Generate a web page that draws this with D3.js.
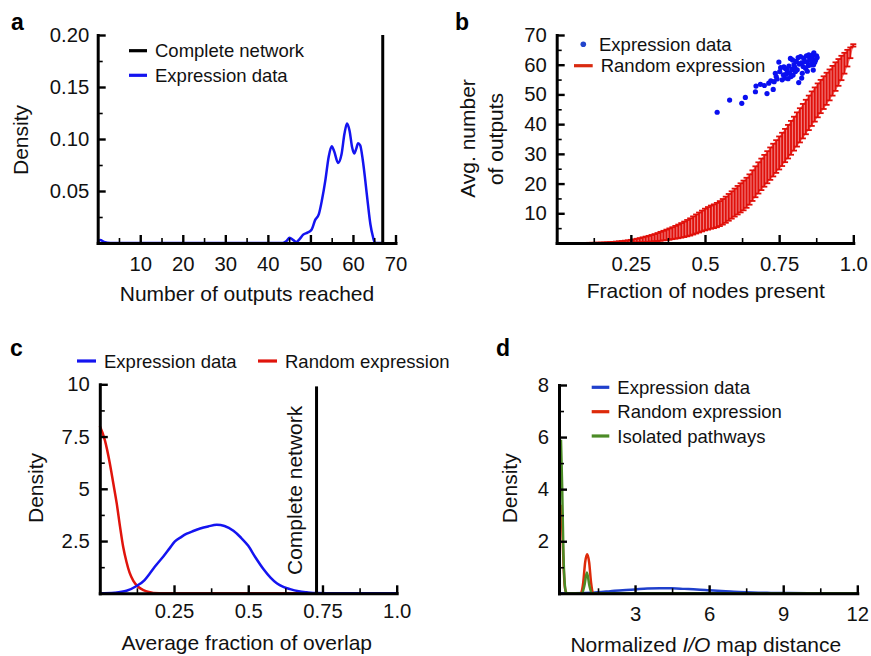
<!DOCTYPE html>
<html>
<head>
<meta charset="utf-8">
<script src="https://cdn.jsdelivr.net/npm/d3@7"></script>
<style>
  body { margin: 0; background: #fff; }
  svg { font-family: "Liberation Sans", Arial, sans-serif; }
</style>
</head>
<body>
<div id="chart"></div>
<script>
// ---- panel a: density of number of outputs reached
const aX = [0, 0.6, 1.5, 3, 20, 43.5, 44.4, 45.1, 45.9, 46.7, 47.5, 48.3, 49.3, 50.3, 51.1, 52.0, 52.7, 53.5, 54.3, 55.0, 55.6, 56.5, 57.3, 58.0, 58.6, 59.2, 59.8, 60.3, 60.8, 61.2, 61.7, 62.3, 62.9, 63.5, 64.1, 64.7, 65.2, 65.8, 67];
const aDensity = [0.001, 0.003, 0.001, 0, 0, 0, 0.002, 0.005, 0.003, 0.001, 0.004, 0.008, 0.010, 0.013, 0.022, 0.028, 0.041, 0.06, 0.083, 0.093, 0.088, 0.077, 0.085, 0.105, 0.115, 0.108, 0.092, 0.086, 0.091, 0.096, 0.094, 0.08, 0.06, 0.038, 0.018, 0.006, 0, 0, 0];
const aComplete = 67;
const aXTicks = [10, 20, 30, 40, 50, 60, 70];
const aYTicks = [0.05, 0.1, 0.15, 0.2];
const aYLabels = ["0.05", "0.10", "0.15", "0.20"];

// ---- panel b: outputs vs fraction of nodes
const bExprFrac = [0.541, 0.583, 0.624, 0.636, 0.670, 0.672, 0.687, 0.700, 0.709, 0.715, 0.722, 0.730, 0.733, 0.737, 0.740, 0.743, 0.749, 0.752, 0.755, 0.760, 0.764, 0.766, 0.769, 0.771, 0.775, 0.777, 0.780, 0.783, 0.786, 0.788, 0.790, 0.793, 0.795, 0.797, 0.800, 0.803, 0.805, 0.808, 0.811, 0.814, 0.816, 0.818, 0.822, 0.825, 0.826, 0.828, 0.831, 0.833, 0.836, 0.839, 0.842, 0.845, 0.845, 0.848, 0.850, 0.853, 0.856, 0.858, 0.861, 0.864, 0.865, 0.866, 0.867, 0.870, 0.873, 0.876, 0.878];
const bExprOutputs = [44.0, 48.1, 47.0, 49.0, 50.9, 52.8, 53.4, 53.0, 50.3, 53.8, 54.6, 51.7, 54.3, 57.1, 56.0, 55.2, 60.9, 57.7, 59.0, 54.9, 56.6, 59.3, 55.5, 58.7, 57.0, 58.2, 55.3, 59.5, 57.2, 62.1, 56.0, 58.4, 61.6, 56.5, 60.0, 59.1, 57.7, 61.1, 58.3, 62.4, 54.0, 60.2, 62.7, 60.6, 55.5, 57.1, 59.4, 62.2, 61.1, 58.8, 63.0, 61.0, 57.8, 59.7, 63.3, 62.1, 59.9, 61.4, 62.2, 63.4, 58.2, 60.0, 64.0, 60.8, 61.6, 63.0, 62.4];
const bRandFrac = d3.range(1, 101).map(i => i / 100);
const bRandMean = [
  0, 0, 0, 0, 0, 0, 0, 0, 0.01, 0.02,
  0.03, 0.04, 0.05, 0.07, 0.08, 0.10, 0.13, 0.16, 0.2, 0.25,
  0.3, 0.36, 0.43, 0.5, 0.6, 0.7, 0.82, 0.95, 1.1, 1.25,
  1.4, 1.6, 1.8, 2.0, 2.25, 2.5, 2.75, 3.0, 3.3, 3.6,
  3.9, 4.25, 4.6, 5.0, 5.4, 5.9, 6.4, 6.9, 7.4, 7.9,
  8.3, 8.7, 9.0, 9.4, 9.9, 10.5, 11.2, 12.0, 12.8, 13.6,
  14.4, 15.2, 16.0, 16.9, 18.0, 19.3, 20.6, 21.9, 23.1, 24.3,
  25.5, 26.7, 27.9, 29.1, 30.3, 31.5, 32.8, 34.1, 35.4, 36.8,
  38.2, 39.6, 41.0, 42.4, 43.8, 45.2, 46.6, 48.0, 49.3, 50.6,
  51.9, 53.2, 54.6, 56.0, 57.4, 58.9, 60.5, 62.2, 64.0, 66.5
];
const bRandSd = [
  0, 0, 0, 0, 0, 0, 0, 0, 0.01, 0.02,
  0.03, 0.04, 0.05, 0.06, 0.08, 0.1, 0.12, 0.15, 0.18, 0.22,
  0.26, 0.3, 0.35, 0.4, 0.46, 0.53, 0.6, 0.7, 0.8, 0.9,
  1.0, 1.1, 1.2, 1.35, 1.5, 1.6, 1.75, 1.9, 2.0, 2.15,
  2.3, 2.45, 2.6, 2.75, 2.9, 3.05, 3.2, 3.35, 3.5, 3.65,
  3.8, 3.9, 4.0, 4.1, 4.2, 4.3, 4.4, 4.5, 4.6, 4.7,
  4.8, 4.9, 5.0, 5.05, 5.1, 5.15, 5.2, 5.25, 5.3, 5.35,
  5.4, 5.45, 5.5, 5.5, 5.55, 5.6, 5.6, 5.65, 5.7, 5.7,
  5.75, 5.75, 5.8, 5.8, 5.8, 5.8, 5.75, 5.7, 5.6, 5.5,
  5.4, 5.2, 5.0, 4.8, 4.5, 4.1, 3.5, 2.8, 1.8, 0.4
];
const bXTicks = [0.25, 0.5, 0.75, 1.0];
const bXLabels = ["0.25", "0.5", "0.75", "1.0"];
const bYTicks = [10, 20, 30, 40, 50, 60, 70];

// ---- panel c: average fraction of overlap
const cExprX = [0, 0.05, 0.09, 0.124, 0.15, 0.169, 0.19, 0.214, 0.235, 0.253, 0.275, 0.293, 0.315, 0.338, 0.365, 0.394, 0.42, 0.45, 0.475, 0.5, 0.525, 0.551, 0.575, 0.596, 0.62, 0.641, 0.67, 0.697, 0.73, 0.8, 1.0];
const cExprDensity = [0, 0.03, 0.12, 0.35, 0.62, 0.96, 1.35, 1.76, 2.15, 2.48, 2.7, 2.85, 2.98, 3.1, 3.2, 3.28, 3.22, 2.99, 2.67, 2.27, 1.7, 1.16, 0.75, 0.48, 0.3, 0.2, 0.1, 0.05, 0.01, 0, 0];
const cRandX = [0, 0.017, 0.034, 0.045, 0.057, 0.068, 0.079, 0.09, 0.1, 0.113, 0.13, 0.147, 0.165, 0.18, 0.22, 0.3, 1.0];
const cRandDensity = [8.0, 7.33, 6.2, 5.3, 4.3, 3.2, 2.2, 1.5, 1.0, 0.6, 0.3, 0.15, 0.06, 0.02, 0, 0, 0];
const cComplete = 0.73;
const cXTicks = [0.25, 0.5, 0.75, 1.0];
const cXLabels = ["0.25", "0.5", "0.75", "1.0"];
const cYTicks = [2.5, 5, 7.5, 10];

// ---- panel d: normalized I/O map distance
const dExprX = [0, 0.5, 1.0, 1.5, 2, 2.5, 3, 3.5, 4, 4.5, 5, 5.5, 6, 6.5, 7, 7.5, 8, 8.5, 9, 10, 11, 12];
const dExprDensity = [0, 0.005, 0.015, 0.04, 0.08, 0.12, 0.15, 0.18, 0.19, 0.19, 0.17, 0.15, 0.12, 0.09, 0.06, 0.04, 0.025, 0.015, 0.01, 0.004, 0.001, 0];
const dRandX = [0, 0.05, 0.1, 0.15, 0.2, 0.25, 0.8, 0.9, 0.98, 1.06, 1.14, 1.22, 1.3, 12];
const dRandDensity = [3.4, 2.6, 1.2, 0.3, 0.05, 0, 0, 0.4, 1.2, 1.5, 1.2, 0.4, 0, 0];
const dIsoX = [0, 0.05, 0.1, 0.15, 0.2, 0.25, 0.85, 0.95, 1.05, 1.15, 1.25, 1.4, 12];
const dIsoDensity = [5.9, 4.0, 1.5, 0.4, 0.05, 0, 0, 0.3, 0.8, 0.3, 0, 0, 0];
const dXTicks = [3, 6, 9, 12];
const dYTicks = [2, 4, 6, 8];

const BLUE = "#1414f0", RED = "#e0140c", GREEN = "#4b8b26", DBLUE = "#2040cc", DRED = "#dd2a0a";

const svg = d3.select("#chart").append("svg")
  .attr("width", 871).attr("height", 656);

// draw axes with major + minor inward ticks
function axes(g, x, y, o) {
  const h = y.range()[0];
  g.append("g").attr("transform", "translate(0," + h + ")")
    .call(d3.axisBottom(x).tickValues(o.xMinor).tickSize(-5).tickFormat("").tickSizeOuter(0))
    .call(s => s.select(".domain").remove())
    .call(s => s.selectAll("line").attr("stroke-width", 1.6));
  g.append("g").attr("transform", "translate(" + x.range()[0] + ",0)")
    .call(d3.axisLeft(y).tickValues(o.yMinor).tickSize(-5).tickFormat("").tickSizeOuter(0))
    .call(s => s.select(".domain").remove())
    .call(s => s.selectAll("line").attr("stroke-width", 1.6));
  const xa = g.append("g").attr("transform", "translate(0," + h + ")")
    .call(d3.axisBottom(x).tickValues(o.xTicks).tickSize(-8).tickPadding(o.xPad || 13.5).tickSizeOuter(0)
      .tickFormat((d, i) => o.xLabels ? o.xLabels[i] : d));
  const ya = g.append("g").attr("transform", "translate(" + x.range()[0] + ",0)")
    .call(d3.axisLeft(y).tickValues(o.yTicks).tickSize(-8).tickPadding(o.yPad || 10).tickSizeOuter(0)
      .tickFormat((d, i) => o.yLabels ? o.yLabels[i] : d));
  [xa, ya].forEach(a => {
    a.selectAll("text").attr("font-size", 20.3).attr("fill", "#111")
      .attr("font-family", "Liberation Sans, Arial, sans-serif");
    a.selectAll(".tick line").attr("stroke-width", 2.4);
    a.select(".domain").attr("stroke-width", 3).attr("stroke-linecap", "square");
  });
}

function panelLabel(txt, x, y) {
  svg.append("text").attr("x", x).attr("y", y).attr("font-size", 23)
    .attr("font-weight", "bold").text(txt);
}

function title(txt, x, y, rotate) {
  const t = svg.append("text").attr("font-size", 21).attr("text-anchor", "middle").attr("fill", "#111");
  if (rotate) t.attr("transform", "translate(" + x + "," + y + ") rotate(-90)");
  else t.attr("x", x).attr("y", y);
  t.text(txt);
  return t;
}

function legendLine(x, y, color, label, w) {
  svg.append("line").attr("x1", x).attr("x2", x + (w || 18)).attr("y1", y).attr("y2", y)
    .attr("stroke", color).attr("stroke-width", 3.2);
  svg.append("text").attr("x", x + (w || 18) + 8).attr("y", y + 6.5).attr("font-size", 18.5)
    .attr("fill", "#111").text(label);
}

const curve = (x, y) => d3.line().x(d => x(d[0])).y(d => y(d[1])).curve(d3.curveMonotoneX);

// ================= a =================
{
  const x = d3.scaleLinear().domain([0, 70]).range([97.7, 395.5]);
  const y = d3.scaleLinear().domain([0, 0.2]).range([243, 35]);
  const g = svg.append("g");
  g.append("path").datum(d3.zip(aX, aDensity)).attr("d", curve(x, y))
    .attr("fill", "none").attr("stroke", BLUE).attr("stroke-width", 2.5);
  g.append("line").attr("x1", x(aComplete)).attr("x2", x(aComplete))
    .attr("y1", y(0)).attr("y2", y(0.2)).attr("stroke", "#000").attr("stroke-width", 3);
  axes(g, x, y, {
    xTicks: aXTicks, xMinor: [5, 15, 25, 35, 45, 55, 65],
    yTicks: aYTicks, yLabels: aYLabels, yMinor: [0.025, 0.075, 0.125, 0.175], yPad: 8.4
  });
  panelLabel("a", 11, 30);
  title("Density", 28.3, 140, true);
  title("Number of outputs reached", 247, 301);
  legendLine(129, 50.7, "#000", "Complete network");
  legendLine(129, 75.3, BLUE, "Expression data");
}

// ================= b =================
{
  const x = d3.scaleLinear().domain([0, 1]).range([556.7, 853.3]);
  const y = d3.scaleLinear().domain([0, 70]).range([243, 35]).clamp(true);
  const g = svg.append("g");
  const rand = bRandFrac.map((f, i) => ({ f: f, lo: bRandMean[i] - bRandSd[i], hi: bRandMean[i] + bRandSd[i] }));
  // pale fill between the bars
  g.append("path").datum(rand)
    .attr("d", d3.area().x(d => x(d.f)).y0(d => y(d.lo)).y1(d => y(d.hi)))
    .attr("fill", "#f07a7a");
  const bars = g.append("g").attr("stroke", "#e0100a").attr("stroke-width", 1.8);
  rand.forEach(d => {
    const lo = y(d.lo), hi = y(d.hi), cx = x(d.f);
    bars.append("line").attr("x1", cx).attr("x2", cx).attr("y1", lo).attr("y2", hi);
    bars.append("line").attr("x1", cx - 3).attr("x2", cx + 3).attr("y1", lo).attr("y2", lo);
    bars.append("line").attr("x1", cx - 3).attr("x2", cx + 3).attr("y1", hi).attr("y2", hi);
  });
  g.selectAll(".dot").data(d3.zip(bExprFrac, bExprOutputs)).enter().append("circle")
    .attr("cx", d => x(d[0])).attr("cy", d => y(d[1])).attr("r", 2.6).attr("fill", "#0a0ff0");
  axes(g, x, y, {
    xTicks: bXTicks, xLabels: bXLabels, xMinor: [0.125, 0.375, 0.625, 0.875],
    yTicks: bYTicks, yMinor: [5, 15, 25, 35, 45, 55, 65]
  });
  panelLabel("b", 455, 30);
  title("Avg. number", 475, 138.5, true);
  title("of outputs", 503, 139, true);
  title("Fraction of nodes present", 705.8, 298);
  svg.append("circle").attr("cx", 583.3).attr("cy", 44.3).attr("r", 2.8).attr("fill", "#2244cc");
  svg.append("text").attr("x", 599).attr("y", 50.5).attr("font-size", 18.5).attr("fill", "#111").text("Expression data");
  legendLine(574, 65.7, "#d92a10", "Random expression", 18.7);
}

// ================= c =================
{
  const x = d3.scaleLinear().domain([0, 1]).range([99.8, 396.7]);
  const y = d3.scaleLinear().domain([0, 10]).range([593.3, 384.3]);
  const g = svg.append("g");
  g.append("path").datum(d3.zip(cRandX, cRandDensity)).attr("d", curve(x, y))
    .attr("fill", "none").attr("stroke", RED).attr("stroke-width", 2.5);
  g.append("path").datum(d3.zip(cExprX, cExprDensity)).attr("d", curve(x, y))
    .attr("fill", "none").attr("stroke", BLUE).attr("stroke-width", 2.5);
  g.append("line").attr("x1", x(cComplete)).attr("x2", x(cComplete))
    .attr("y1", y(0)).attr("y2", y(9.9)).attr("stroke", "#000").attr("stroke-width", 3);
  axes(g, x, y, {
    xTicks: cXTicks, xLabels: cXLabels, xMinor: [0.125, 0.375, 0.625, 0.875], xPad: 10,
    yTicks: cYTicks, yMinor: [1.25, 3.75, 6.25, 8.75]
  });
  svg.append("text").attr("transform", "translate(302,575) rotate(-90)")
    .attr("font-size", 21).attr("fill", "#111").text("Complete network");
  panelLabel("c", 10, 356);
  title("Density", 42.7, 488, true);
  title("Average fraction of overlap", 246.7, 650);
  legendLine(77, 361, BLUE, "Expression data", 19);
  legendLine(258, 361, RED, "Random expression", 19);
}

// ================= d =================
{
  // axis starts a hair below 0 so the spikes at 0 show beside the axis line
  const x = d3.scaleLinear().domain([-0.08, 12]).range([559, 857.3]);
  const y = d3.scaleLinear().domain([0, 8]).range([593.3, 385]);
  const g = svg.append("g");
  g.append("path").datum(d3.zip(dExprX, dExprDensity)).attr("d", curve(x, y))
    .attr("fill", "none").attr("stroke", DBLUE).attr("stroke-width", 2.5);
  g.append("path").datum(d3.zip(dRandX, dRandDensity)).attr("d", curve(x, y))
    .attr("fill", "none").attr("stroke", DRED).attr("stroke-width", 2.5);
  g.append("path").datum(d3.zip(dIsoX, dIsoDensity)).attr("d", curve(x, y))
    .attr("fill", "none").attr("stroke", GREEN).attr("stroke-width", 2.5);
  axes(g, x, y, {
    xTicks: dXTicks, xMinor: [1.5, 4.5, 7.5, 10.5],
    yTicks: dYTicks, yMinor: [1, 3, 5, 7]
  });
  panelLabel("d", 496, 356);
  title("Density", 516.7, 488.3, true);
  const t = title("", 705.8, 651.7);
  t.append("tspan").text("Normalized ");
  t.append("tspan").attr("font-style", "italic").text("I/O");
  t.append("tspan").text(" map distance");
  legendLine(591.7, 387.3, DBLUE, "Expression data", 17.6);
  legendLine(591.7, 411.7, DRED, "Random expression", 17.6);
  legendLine(591.7, 436, GREEN, "Isolated pathways", 17.6);
}
</script>
</body>
</html>
